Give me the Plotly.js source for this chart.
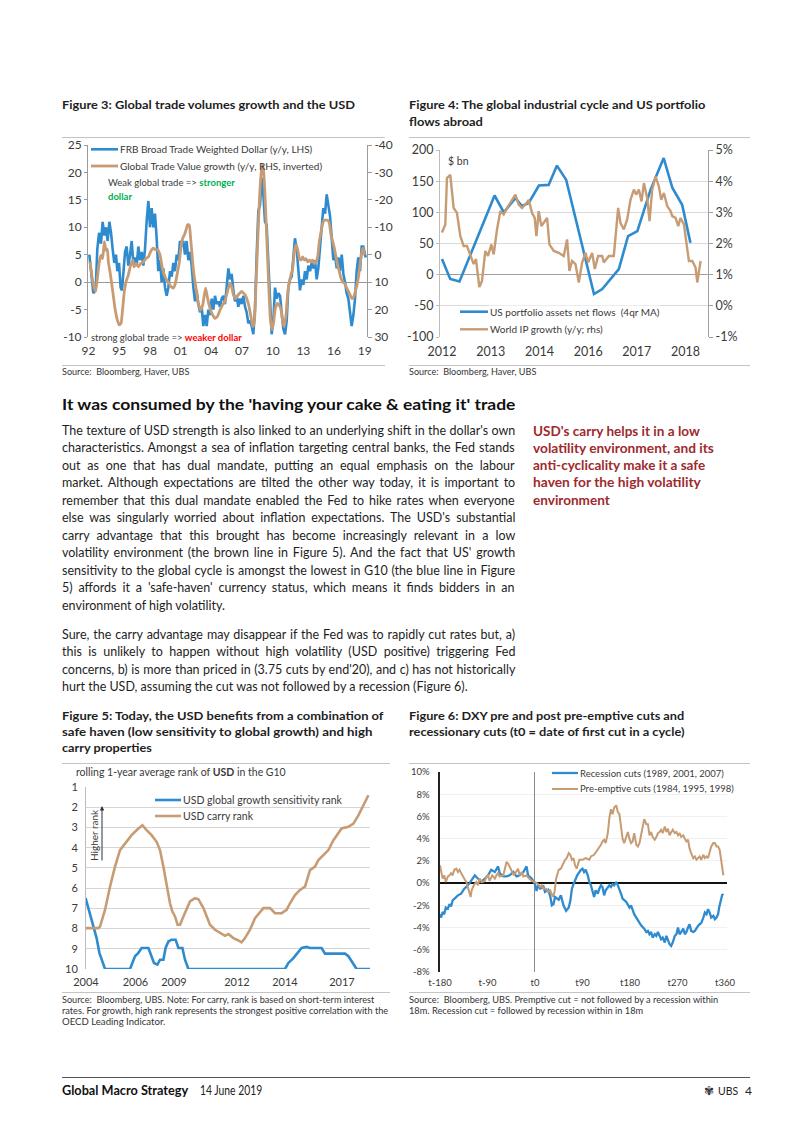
<!DOCTYPE html>
<html><head><meta charset="utf-8">
<script src="https://cdn.plot.ly/plotly-3.0.1.min.js"></script>
<style>
html,body{margin:0;padding:0;background:#fff}
body{width:802px;height:1133px;position:relative;overflow:hidden;font-family:Lato,"Open Sans",sans-serif;color:#1e1e1e}
.t{position:absolute;white-space:pre;line-height:1;transform-origin:0 0}
.chart{position:absolute}
.rule{position:absolute;height:0;border-top:1px solid #c4c4c4}
</style></head><body>
<script>
// ---------------- DATA ----------------
// Figure 3: [decimal year, value]
const usdTwdYoY = [[1992.08,5],[1992.31,0],[1992.47,-2],[1992.70,-1.5],[1992.86,6],[1993.03,9],[1993.22,7],[1993.38,11],[1993.55,8.5],[1993.71,10],[1993.87,7.5],[1994.04,11],[1994.20,9],[1994.36,6],[1994.52,3.5],[1994.69,5],[1994.82,2],[1994.98,3.5],[1995.14,-1],[1995.27,-1.5],[1995.40,1],[1995.57,5.5],[1995.73,6.5],[1995.89,3],[1996.06,5],[1996.22,7.5],[1996.38,3.5],[1996.54,4.5],[1996.71,3],[1996.87,6.5],[1997.03,4],[1997.20,5.5],[1997.36,3],[1997.52,6],[1997.68,11],[1997.85,14.8],[1998.01,10],[1998.17,13.5],[1998.34,10],[1998.50,12.5],[1998.66,8],[1998.82,2],[1998.99,4],[1999.15,0],[1999.31,2.5],[1999.48,-1],[1999.64,-2.5],[1999.80,-1],[1999.97,2],[2000.13,1],[2000.29,3.5],[2000.45,2],[2000.62,5],[2000.78,4],[2000.94,7.5],[2001.11,6.5],[2001.27,7.5],[2001.43,5],[2001.59,7.5],[2001.76,4],[2001.92,5.5],[2002.08,3],[2002.25,-1],[2002.41,-3.5],[2002.57,-1.5],[2002.73,-4],[2002.90,-5.5],[2003.06,-4.5],[2003.22,-8],[2003.39,-6],[2003.55,-8],[2003.71,-5],[2003.87,-6],[2004.04,-3],[2004.20,-5],[2004.36,-2.5],[2004.53,-4],[2004.69,-3.5],[2004.85,-4.5],[2005.02,-3],[2005.18,-2.5],[2005.34,-4],[2005.50,-1],[2005.67,2.5],[2005.83,0.5],[2005.99,1.5],[2006.16,-1.5],[2006.32,-3.5],[2006.48,-2.5],[2006.64,-4.5],[2006.81,-3],[2006.97,-4],[2007.14,-2.5],[2007.30,-4.5],[2007.46,-5.5],[2007.62,-7.5],[2007.79,-7],[2007.95,-8],[2008.11,-9.5],[2008.27,-5],[2008.44,5],[2008.60,13],[2008.76,14],[2008.93,19],[2009.09,16],[2009.25,11],[2009.41,10.5],[2009.58,3],[2009.74,-5],[2009.90,-9.5],[2010.07,-7],[2010.23,-1],[2010.39,-3],[2010.56,-2],[2010.72,-2.5],[2010.88,-5],[2011.04,-8.5],[2011.21,-9.5],[2011.37,-7],[2011.53,-1],[2011.70,0.5],[2011.86,1],[2012.02,4],[2012.18,8],[2012.35,6],[2012.51,2],[2012.67,-1.5],[2012.84,0.5],[2013.00,-0.5],[2013.16,2],[2013.32,0.5],[2013.49,3],[2013.65,2],[2013.81,3.5],[2013.98,2.5],[2014.14,4],[2014.30,0.5],[2014.46,2.5],[2014.63,7],[2014.79,10],[2014.95,13.5],[2015.12,12.5],[2015.28,16],[2015.44,14],[2015.61,12],[2015.77,8],[2015.93,4],[2016.09,5],[2016.26,2.5],[2016.42,4.5],[2016.58,2],[2016.75,5],[2016.91,1.5],[2017.07,0],[2017.23,-2],[2017.40,-3],[2017.56,-5.5],[2017.72,-8],[2017.89,-6],[2018.05,-3],[2018.21,2],[2018.37,4.5],[2018.54,2],[2018.70,6.5],[2018.86,6.5],[2019.09,4.5]];
const tradeValueYoY = [[1992.15,2.6],[1992.47,11],[1992.70,13.4],[1992.90,7.4],[1993.06,2.6],[1993.22,0.2],[1993.38,1.4],[1993.55,-4.8],[1993.71,-1.6],[1993.84,-2],[1993.94,2.6],[1994.10,6.2],[1994.33,12.2],[1994.59,19.6],[1994.82,23.8],[1995.01,25.6],[1995.18,25],[1995.34,19.6],[1995.50,13.4],[1995.67,9.8],[1995.89,7.4],[1996.12,3.8],[1996.32,2],[1996.45,4.4],[1996.64,3.2],[1996.87,4.4],[1997.10,3.2],[1997.36,2.6],[1997.62,1.4],[1997.85,0.8],[1998.08,-1.2],[1998.34,-2.4],[1998.56,-1.8],[1998.76,-1.8],[1998.99,0.2],[1999.22,5],[1999.41,7.4],[1999.64,9.2],[1999.87,10.4],[2000.06,11.6],[2000.29,12.2],[2000.45,11],[2000.68,6.8],[2000.88,2.6],[2001.01,-1.8],[2001.20,-6],[2001.37,-7.2],[2001.53,-9],[2001.69,-11],[2001.85,-10.8],[2001.98,-6],[2002.15,1.4],[2002.31,7.4],[2002.51,12.2],[2002.73,17.8],[2002.96,20.2],[2003.16,18.4],[2003.32,14.6],[2003.45,12.2],[2003.65,16],[2003.88,19.6],[2004.14,22],[2004.36,23.2],[2004.59,22.6],[2004.85,20.2],[2005.08,18.4],[2005.31,17.2],[2005.50,14.6],[2005.67,12.2],[2005.83,10.4],[2005.99,11.6],[2006.16,14.6],[2006.38,16],[2006.64,14.6],[2006.97,13.4],[2007.30,14.6],[2007.62,17.8],[2007.85,22],[2008.05,26.2],[2008.21,24.4],[2008.37,11],[2008.54,-4.8],[2008.70,-19.4],[2008.86,-29],[2008.99,-32.8],[2009.12,-30.2],[2009.28,-19.4],[2009.45,-3.6],[2009.61,11],[2009.77,23.2],[2009.94,27.4],[2010.10,24.4],[2010.26,19.6],[2010.46,17.8],[2010.65,18.4],[2010.82,20.2],[2010.98,24.4],[2011.14,26.2],[2011.30,22],[2011.47,14],[2011.63,9.8],[2011.79,7.4],[2011.96,5],[2012.12,-1.2],[2012.28,-3.6],[2012.45,-1.8],[2012.61,1.4],[2012.77,2],[2012.93,0.8],[2013.10,2],[2013.26,1.4],[2013.42,2.6],[2013.59,2],[2013.75,2.6],[2013.91,2],[2014.07,3.2],[2014.24,2.6],[2014.40,0.8],[2014.56,-4.8],[2014.73,-8.4],[2014.89,-11.4],[2015.05,-12.6],[2015.21,-12.6],[2015.38,-12.6],[2015.54,-11.4],[2015.70,-7.2],[2015.87,-4.8],[2016.03,-2.4],[2016.19,0.8],[2016.35,3.8],[2016.52,6.2],[2016.68,8.6],[2016.84,9.8],[2017.01,10.4],[2017.17,11.6],[2017.33,12.8],[2017.56,14.6],[2017.76,16],[2017.92,15.4],[2018.08,13.4],[2018.24,11],[2018.41,7.4],[2018.57,2.6],[2018.73,-1.2],[2018.86,-2.4],[2018.96,0.2]];
const fig3TickVals = [1992,1995,1998,2001,2004,2007,2010,2013,2016,2019];
const fig3TickText = ['92','95','98','01','04','07','10','13','16','19'];
const fig3LeftTicks = [-10,-5,0,5,10,15,20,25];
const fig3RightTicks = [-40,-30,-20,-10,0,10,20,30];

// Figure 4: position on the category axis (label units), value
const portfolioFlows = [[0,25],[0.17,-7],[0.36,-11],[1.08,127],[1.27,100],[1.51,123],[1.64,110],[1.78,115],[1.99,143],[2.19,144],[2.36,175],[2.55,152],[3.12,-31],[3.29,-23],[3.63,9],[3.82,62],[4.01,70],[4.28,136],[4.55,187],[4.73,139],[4.93,112],[5.10,51]];
const worldIP = [[0,2.35],[0.068,2.6],[0.103,4.1],[0.171,4.2],[0.240,3.14],[0.308,2.98],[0.377,2.24],[0.445,1.92],[0.514,1.92],[0.582,1.6],[0.651,1.34],[0.699,1.5],[0.767,0.6],[0.822,0.8],[0.890,1.76],[0.945,1.6],[1.014,1.97],[1.062,1.65],[1.130,2.45],[1.199,3.04],[1.267,2.93],[1.336,3.14],[1.438,3.4],[1.507,3.57],[1.575,3.25],[1.644,3.14],[1.712,3.25],[1.781,3.4],[1.849,2.98],[1.904,2.82],[1.938,2.24],[1.986,3.04],[2.041,2.56],[2.089,2.66],[2.158,2.82],[2.205,1.97],[2.295,1.76],[2.397,1.7],[2.500,1.6],[2.568,2.13],[2.616,1.12],[2.671,1.44],[2.740,1.34],[2.808,0.75],[2.877,1.39],[2.945,1.7],[3.000,1.39],[3.082,1.7],[3.137,1.18],[3.205,1.6],[3.288,1.6],[3.322,1.39],[3.425,1.6],[3.527,1.6],[3.575,2.56],[3.616,3.14],[3.664,2.66],[3.733,2.45],[3.801,2.77],[3.870,3.4],[3.938,3.73],[3.986,3.57],[4.041,3.73],[4.096,3.35],[4.144,3.94],[4.212,3.46],[4.260,2.72],[4.315,3.73],[4.384,4.15],[4.452,3.83],[4.500,3.4],[4.555,3.62],[4.623,3.2],[4.692,3.04],[4.726,2.88],[4.795,2.82],[4.849,2.56],[4.897,2.82],[4.966,2.61],[5.034,1.92],[5.068,1.44],[5.137,1.44],[5.205,1.23],[5.240,0.75],[5.308,1.44]];
const fig4TickVals = [0,1,2,3,4,5];
const fig4TickText = ['2012','2013','2014','2016','2017','2018'];
const fig4LeftTicks = [-100,-50,0,50,100,150,200];
const fig4RightTicks = [-1,0,1,2,3,4,5];

// Figure 5: [year position, rank]
const growthSensRank = [[2004.18,6.5],[2004.4,7.24],[2004.57,7.9],[2004.73,8.47],[2004.87,9.2],[2004.98,9.54],[2005.15,10],[2006.4,10],[2006.65,9.37],[2006.82,9.2],[2006.98,8.96],[2007.32,8.96],[2007.48,9.37],[2007.6,9.7],[2007.77,9.78],[2007.9,9.54],[2008.07,9.54],[2008.18,8.96],[2008.32,8.64],[2008.48,8.55],[2008.68,8.55],[2008.82,8.96],[2009.02,8.96],[2009.15,9.54],[2009.32,10],[2014.15,10],[2014.32,9.7],[2014.57,9.46],[2014.98,8.96],[2015.23,8.91],[2015.4,8.96],[2015.98,8.96],[2016.15,9.24],[2017.15,9.24],[2017.32,9.37],[2017.73,10],[2018.4,10]];
const carryRank = [[2004.18,7.98],[2004.82,7.98],[2004.9,7.9],[2005.15,7.08],[2005.4,5.93],[2005.65,4.94],[2005.9,4.12],[2006.15,3.79],[2006.48,3.38],[2006.82,3.05],[2007.02,2.89],[2007.23,3.13],[2007.48,3.38],[2007.73,3.71],[2007.9,4.12],[2008.07,4.94],[2008.23,5.93],[2008.4,6.75],[2008.52,7.16],[2008.65,7.4],[2008.78,7.81],[2008.9,7.81],[2009.07,7.4],[2009.23,7.08],[2009.4,6.66],[2009.65,6.5],[2009.82,6.55],[2010.07,6.99],[2010.23,7.4],[2010.4,7.81],[2010.65,8.06],[2010.9,8.22],[2011.15,8.36],[2011.32,8.27],[2011.57,8.47],[2011.82,8.59],[2011.98,8.68],[2012.15,8.47],[2012.4,8.06],[2012.65,7.49],[2012.9,7.16],[2013.07,6.99],[2013.4,6.99],[2013.65,7.24],[2013.98,7.24],[2014.23,7.08],[2014.4,6.75],[2014.65,6.34],[2014.9,6.09],[2015.15,5.93],[2015.4,5.11],[2015.65,4.94],[2015.82,4.61],[2016.07,4.37],[2016.32,4.12],[2016.57,3.63],[2016.73,3.38],[2016.98,3.05],[2017.32,2.97],[2017.57,2.81],[2017.82,2.4],[2018.07,1.9],[2018.32,1.41]];
const fig5TickVals = [2004.2,2006.67,2008.6,2011.75,2014.15,2017.0];
const fig5TickText = ['2004','2006','2009','2012','2014','2017'];

// Figure 6: [days from first cut, DXY % change]
const recessionCuts = [[-180,-2.8],[-178,-3.1],[-175,-2.6],[-172,-2.8],[-169,-2.2],[-165,-2.3],[-162,-1.9],[-159,-2.1],[-156,-1.55],[-149,-1.25],[-146,-1.1],[-140,-0.95],[-137,-0.65],[-134,-0.5],[-130,-0.35],[-127,-0.2],[-124,0],[-114,0.7],[-108,0.4],[-102,0.1],[-95,0.4],[-89,0.7],[-83,1.2],[-76,1.0],[-70,1.5],[-67,0.9],[-60,0.6],[-54,0.6],[-48,0.7],[-41,1.0],[-35,0.6],[-29,0.7],[-22,1.0],[-16,1.5],[-13,0.7],[-6,0.4],[0,-0.1],[3,-0.7],[6,-0.2],[10,-0.5],[16,-0.3],[19,-0.8],[25,-0.6],[29,-1.2],[32,-2.0],[35,-1.9],[38,-1.25],[45,-1.5],[49,-1.1],[54,-2.0],[59,-2.5],[64,-2.2],[67,-1.6],[70,-0.5],[73,-0.1],[80,0.7],[87,1.2],[90,1.3],[93,1.0],[96,1.2],[100,0.7],[103,0.1],[106,-0.2],[109,-0.8],[112,-1.25],[115,-0.65],[119,-0.95],[122,-0.5],[125,-0.2],[128,-0.35],[131,-1.1],[134,-0.65],[138,-0.35],[141,-0.2],[144,-0.35],[147,-0.1],[150,-0.2],[154,0.1],[157,-0.2],[160,-0.5],[163,-0.95],[166,-1.4],[173,-1.7],[179,-2.2],[182,-2.0],[188,-2.8],[195,-3.4],[201,-3.8],[207,-4.1],[211,-4.4],[214,-4.3],[217,-4.6],[220,-4.4],[223,-4.9],[227,-4.6],[230,-4.75],[233,-4.4],[236,-4.75],[239,-5.05],[242,-4.9],[246,-5.35],[249,-4.75],[252,-5.2],[255,-5.5],[258,-5.65],[261,-5.35],[265,-4.75],[268,-4.6],[271,-4.0],[274,-4.6],[277,-4.4],[281,-4.1],[284,-4.6],[287,-4.4],[290,-4.0],[293,-3.7],[296,-4.3],[300,-4.4],[303,-4.3],[306,-4.0],[309,-3.85],[312,-3.7],[315,-3.6],[319,-3.1],[322,-2.65],[325,-2.8],[328,-2.35],[331,-2.65],[334,-3.1],[338,-2.95],[341,-3.25],[344,-3.1],[347,-2.8],[349,-2.2],[352,-1.6],[355,-1.0],[357,-1.1]];
const preemptiveCuts = [[-180,1.6],[-175,0.4],[-172,0.7],[-169,0.1],[-165,0.6],[-162,0.7],[-159,0.9],[-156,0.7],[-153,1.2],[-149,1.3],[-146,1.0],[-143,1.2],[-140,0.9],[-137,0.6],[-134,0.4],[-130,0.1],[-127,-0.35],[-124,-0.8],[-122,-1.25],[-120,-0.65],[-116,-0.2],[-111,0.1],[-108,-0.2],[-105,0.4],[-100,0.1],[-95,0.2],[-92,0.6],[-89,0.7],[-86,0.2],[-81,0.7],[-76,0.4],[-73,0.7],[-70,0.9],[-67,0.6],[-60,0.7],[-57,1.3],[-54,1.9],[-51,1.75],[-48,1.45],[-45,1.2],[-40,0.7],[-36,1.0],[-32,1.3],[-29,0.7],[-25,1.0],[-22,0.6],[-16,0.7],[-11,0.4],[-6,0.2],[0,0.1],[6,-0.1],[10,-0.35],[13,-0.2],[16,-0.5],[21,-0.5],[25,-0.8],[29,-0.65],[34,-1.25],[37,-0.8],[40,0.4],[45,1.2],[49,1.3],[53,1.75],[57,2.1],[60,2.25],[64,2.7],[67,2.55],[70,2.1],[73,2.25],[76,1.6],[79,1.3],[82,1.75],[84,2.1],[90,2.1],[96,2.25],[103,2.1],[106,2.4],[112,2.55],[119,3.0],[125,3.45],[128,3.75],[131,3.9],[134,3.6],[138,4.5],[141,5.9],[144,6.65],[147,6.2],[150,6.8],[154,7.0],[157,6.4],[160,6.2],[163,5.1],[166,4.0],[169,3.6],[173,4.3],[176,4.6],[179,4.0],[182,3.6],[185,3.75],[188,4.5],[192,3.45],[195,3.3],[198,3.6],[201,4.3],[204,5.3],[207,5.75],[211,5.3],[214,5.3],[217,4.3],[220,4.6],[223,4.15],[227,3.9],[230,4.15],[233,4.5],[236,4.6],[239,4.8],[242,4.5],[246,5.1],[249,4.6],[252,4.9],[255,4.3],[258,4.6],[261,4.8],[265,4.5],[268,4.6],[271,4.3],[274,4.5],[277,4.15],[281,4.3],[284,4.0],[287,3.75],[290,3.9],[293,3.1],[296,2.7],[300,2.25],[303,2.4],[306,2.1],[309,2.25],[312,2.4],[315,2.1],[319,2.55],[322,2.25],[325,2.4],[328,2.25],[331,2.7],[334,3.3],[338,3.6],[341,3.6],[344,3.3],[347,3.3],[350,3.0],[352,2.4],[355,1.2],[357,0.7]];
const fig6TickVals = [-180,-90,0,90,180,270,360];
const fig6TickText = ['t-180','t-90','t0','t90','t180','t270','t360'];
const fig6PctTicks = [-8,-6,-4,-2,0,2,4,6,8,10];

// ---------------- PAGE TEXT ----------------
const para1 = [
"The texture of USD strength is also linked to an underlying shift in the dollar's own",
"characteristics. Amongst a sea of inflation targeting central banks, the Fed stands",
"out as one that has dual mandate, putting an equal emphasis on the labour",
"market. Although expectations are tilted the other way today, it is important to",
"remember that this dual mandate enabled the Fed to hike rates when everyone",
"else was singularly worried about inflation expectations. The USD's substantial",
"carry advantage that this brought has become increasingly relevant in a low",
"volatility environment (the brown line in Figure 5). And the fact that US' growth",
"sensitivity to the global cycle is amongst the lowest in G10 (the blue line in Figure",
"5) affords it a 'safe-haven' currency status, which means it finds bidders in an",
"environment of high volatility."];
const para2 = [
"Sure, the carry advantage may disappear if the Fed was to rapidly cut rates but, a)",
"this is unlikely to happen without high volatility (USD positive) triggering Fed",
"concerns, b) is more than priced in (3.75 cuts by end'20), and c) has not historically",
"hurt the USD, assuming the cut was not followed by a recession (Figure 6)."];
const sideNote = ["USD's carry helps it in a low","volatility environment, and its","anti-cyclicality make it a safe","haven for the high volatility","environment"];

// ---------------- HELPERS ----------------
const FONT = 'Lato, "Open Sans", sans-serif';
const BLUE = '#2e8bcf';
const TAN = '#c79c74';
const TXT = '#3a3a3a';
const hy = v => String(v);            // plain hyphen-minus labels
const pct = v => v + '%';

function addText(o){
  const d=document.createElement('div'); d.className='t';
  d.textContent=o.text;
  d.style.left=o.x+'px';
  d.style.top=(o.y-o.size*0.58)+'px';
  d.style.fontSize=o.size+'px';
  d.style.fontWeight=o.bold?'700':'400';
  d.style.color=o.color||'#1e1e1e';
  document.body.appendChild(d);
  if(o.w){ const nat=d.offsetWidth; d.style.transform='scaleX('+(o.w/nat).toFixed(4)+')'; }
  return d;
}
function addRule(x1,y,x2,color,wd){
  const r=document.createElement('div'); r.className='rule';
  r.style.left=x1+'px'; r.style.top=y+'px'; r.style.width=(x2-x1)+'px';
  if(color) r.style.borderTopColor=color;
  if(wd) r.style.borderTopWidth=wd+'px';
  document.body.appendChild(r);
}
function addParagraph(lines,x,y0,dy,width,size){
  const els=lines.map((s,i)=>{const d=document.createElement('div');d.className='t';d.textContent=s;
    d.style.left=x+'px';d.style.top=(y0+i*dy-size*0.58)+'px';d.style.fontSize=size+'px';d.style.color='#1e1e1e';
    document.body.appendChild(d);return d;});
  const nat=els.map(e=>e.offsetWidth);
  let s=1; for(let i=0;i<els.length-1;i++) s=Math.min(s,width/nat[i]);
  els.forEach((e,i)=>{
    e.style.transform='scaleX('+s.toFixed(4)+')';
    if(i<els.length-1){const n=(lines[i].match(/ /g)||[]).length; const extra=width/s-nat[i]; if(n>0) e.style.wordSpacing=(extra/n).toFixed(3)+'px';}
  });
}
function geom(left,top,w,h,m){return {left,top,w,h,m,pl:left+m.l,pt:top+m.t,pw:w-m.l-m.r,ph:h-m.t-m.b};}
function pX(g,x){return (x-g.pl)/g.pw;}
function pY(g,y){return 1-(y-g.pt)/g.ph;}
function ann(g,x,y,text,size,extra){return Object.assign({xref:'paper',yref:'paper',x:pX(g,x),y:pY(g,y),text:text,showarrow:false,xanchor:'left',yanchor:'middle',borderpad:0,font:{family:FONT,size:size,color:TXT}},extra||{});}
// legend drawn with the library's shapes + annotations, at the same place as the reference
function legendItems(g,items,x0,x1,tx,size,bg){
  const shapes=[],anns=[];
  items.forEach(it=>{
    shapes.push({type:'line',xref:'paper',yref:'paper',x0:pX(g,x0),x1:pX(g,x1),y0:pY(g,it.y),y1:pY(g,it.y),line:{color:it.color,width:it.width}});
    anns.push(ann(g,tx,it.y,it.name,size,bg?{bgcolor:bg}:{}));
  });
  return {shapes,anns};
}
function chart(g,traces,layout){
  const d=document.createElement('div'); d.className='chart';
  Object.assign(d.style,{left:g.left+'px',top:g.top+'px',width:g.w+'px',height:g.h+'px'});
  document.body.appendChild(d);
  Object.assign(layout,{width:g.w,height:g.h,autosize:false,margin:{l:g.m.l,r:g.m.r,t:g.m.t,b:g.m.b,pad:0},
    paper_bgcolor:'rgba(0,0,0,0)',plot_bgcolor:'rgba(0,0,0,0)',hovermode:false,showlegend:false,
    font:{family:FONT,size:11,color:TXT}});
  Plotly.newPlot(d,traces,layout,{staticPlot:true,displayModeBar:false});
}
const xs=a=>a.map(p=>p[0]), ys=a=>a.map(p=>p[1]);

// ---------------- PAGE TEXT PLACEMENT ----------------
addText({x:62,y:106,text:'Figure 3: Global trade volumes growth and the USD',size:12,bold:true,w:293});
addText({x:409,y:106,text:'Figure 4: The global industrial cycle and US portfolio',size:12,bold:true,w:296});
addText({x:409,y:123,text:'flows abroad',size:12,bold:true,w:74});
addRule(62,137,385); addRule(409,137,750);
addRule(62,365,385); addRule(409,365,750);
addText({x:62,y:373,text:'Source:  Bloomberg, Haver, UBS',size:9.5,w:127,color:'#333'});
addText({x:409,y:373,text:'Source:  Bloomberg, Haver, UBS',size:9.5,w:127,color:'#333'});

addText({x:62,y:405,text:"It was consumed by the 'having your cake & eating it' trade",size:16,bold:true,w:453,color:'#111'});
addParagraph(para1,62,432,17.5,453,12.5);
addParagraph(para2,62,636,17.4,453,12.5);
const sideW=[167,181,172,168,77];
sideNote.forEach((s,i)=>addText({x:533,y:433+i*17.2,text:s,size:12.5,bold:true,w:sideW[i],color:'#9e2a2e'}));

addText({x:62,y:717,text:'Figure 5: Today, the USD benefits from a combination of',size:12,bold:true,w:321});
addText({x:62,y:733,text:'safe haven (low sensitivity to global growth) and high',size:12,bold:true,w:310});
addText({x:62,y:749,text:'carry properties',size:12,bold:true,w:90});
addText({x:409,y:717,text:'Figure 6: DXY pre and post pre-emptive cuts and',size:12,bold:true,w:275});
addText({x:409,y:733,text:'recessionary cuts (t0 = date of first cut in a cycle)',size:12,bold:true,w:275});
addRule(62,763,390); addRule(409,763,750);
addRule(62,992,390); addRule(409,992,750);
addText({x:62,y:1001,text:'Source:  Bloomberg, UBS. Note: For carry, rank is based on short-term interest',size:9.5,w:312,color:'#333'});
addText({x:62,y:1012,text:'rates. For growth, high rank represents the strongest positive correlation with the',size:9.5,w:326,color:'#333'});
addText({x:62,y:1023,text:'OECD Leading Indicator.',size:9.5,w:103,color:'#333'});
addText({x:409,y:1001,text:'Source:  Bloomberg, UBS. Premptive cut = not followed by a recession within',size:9.5,w:309,color:'#333'});
addText({x:409,y:1012,text:'18m. Recession cut = followed by recession within in 18m',size:9.5,w:234,color:'#333'});

addRule(62,1077,750,'#555',1.5);
addText({x:62,y:1092,text:'Global Macro Strategy',size:12.5,bold:true,w:126,color:'#111'});
addText({x:200,y:1092,text:'14 June 2019',size:12.5,w:62,color:'#222'});
addText({x:704,y:1092,text:'\u273E',size:12,color:'#333'});
addText({x:718,y:1092,text:'UBS',size:12,w:20,color:'#222'});
addText({x:745,y:1092,text:'4',size:12,color:'#222'});

// ---------------- FIGURE 3 ----------------
const g3=geom(55,124,345,239,{l:33,r:33,t:21,b:26});
const n3=['FRB Broad Trade Weighted Dollar (y/y, LHS)','Global Trade Value growth (y/y, RHS, inverted)'];
const L3=legendItems(g3,[{y:149.3,name:n3[0],color:BLUE,width:2.6},{y:166,name:n3[1],color:TAN,width:2.8}],91,118,119,10);
chart(g3,[
  {x:xs(usdTwdYoY),y:ys(usdTwdYoY),type:'scatter',mode:'lines',name:n3[0],line:{color:BLUE,width:2.6}},
  {x:xs(tradeValueYoY),y:ys(tradeValueYoY),type:'scatter',mode:'lines',yaxis:'y2',name:n3[1],line:{color:TAN,width:2.8,shape:'spline',smoothing:0.4}}
],{
  xaxis:{range:[1991.95,2019.22],tickvals:fig3TickVals,ticktext:fig3TickText,showgrid:false,zeroline:false,showline:false,ticks:'',ticklabelstandoff:5,tickfont:{size:12,color:TXT}},
  yaxis:{range:[-10,25.001],tickvals:fig3LeftTicks,ticktext:fig3LeftTicks.map(hy),showgrid:false,zeroline:true,zerolinecolor:'#9a9a9a',zerolinewidth:1,showline:true,linecolor:'#9a9a9a',linewidth:1,ticks:'outside',ticklen:3,tickcolor:'#9a9a9a',tickfont:{size:12,color:TXT},ticklabeloverflow:'allow'},
  yaxis2:{overlaying:'y',side:'right',range:[30,-40.002],tickvals:fig3RightTicks,ticktext:fig3RightTicks.map(hy),showgrid:false,zeroline:false,showline:true,linecolor:'#9a9a9a',linewidth:1,ticks:'outside',ticklen:4,tickcolor:'#9a9a9a',tickfont:{size:12,color:TXT},ticklabeloverflow:'allow'},
  shapes:L3.shapes,
  annotations:L3.anns.concat([
    ann(g3,107,183,'Weak global trade =&gt; <b><span style="color:#00b050">stronger</span></b>',9.5),
    ann(g3,107,197,'<b><span style="color:#00b050">dollar</span></b>',9.5),
    ann(g3,90,337,'strong global trade =&gt; <b><span style="color:#ff0000">weaker dollar</span></b>',9.5)
  ])
});

// ---------------- FIGURE 4 ----------------
const g4=geom(405,128,345,235,{l:35,r:42,t:22,b:26});
const n4=['US portfolio assets net flows  (4qr MA)','World IP growth (y/y; rhs)'];
const L4=legendItems(g4,[{y:311.7,name:n4[0],color:BLUE,width:2.6},{y:329.3,name:n4[1],color:TAN,width:2.4}],460,488,489,10,'#ffffff');
chart(g4,[
  {x:xs(portfolioFlows),y:ys(portfolioFlows),type:'scatter',mode:'lines',name:n4[0],line:{color:BLUE,width:2.6}},
  {x:xs(worldIP),y:ys(worldIP),type:'scatter',mode:'lines',yaxis:'y2',name:n4[1],line:{color:TAN,width:2.4}}
],{
  xaxis:{range:[-0.04,5.46],tickvals:fig4TickVals,ticktext:fig4TickText,showgrid:false,zeroline:false,showline:false,ticks:'',ticklabelstandoff:5,tickfont:{size:12.5,color:TXT}},
  yaxis:{range:[-100,200],tickvals:fig4LeftTicks,ticktext:fig4LeftTicks.map(hy),showgrid:true,gridcolor:'#dadada',gridwidth:1,zeroline:true,zerolinecolor:'#a0a0a0',zerolinewidth:1,showline:true,linecolor:'#bdbdbd',ticks:'outside',ticklen:3,tickcolor:'#bdbdbd',tickfont:{size:12.5,color:TXT}},
  yaxis2:{overlaying:'y',side:'right',range:[-1,5],tickvals:fig4RightTicks,ticktext:fig4RightTicks.map(pct),showgrid:false,zeroline:false,showline:true,linecolor:'#a0a0a0',ticks:'outside',ticklen:4,tickcolor:'#a0a0a0',tickfont:{size:12.5,color:TXT}},
  shapes:L4.shapes,
  annotations:L4.anns.concat([ann(g4,447,161,'$ bn',10.5)])
});

// ---------------- FIGURE 5 ----------------
const g5=geom(55,765,340,230,{l:31,r:25,t:22,b:26});
const n5=['USD global growth sensitivity rank','USD carry rank'];
const L5=legendItems(g5,[{y:800,name:n5[0],color:BLUE,width:2.6},{y:816,name:n5[1],color:TAN,width:2.6}],155,181,182,10.5);
chart(g5,[
  {x:xs(growthSensRank),y:ys(growthSensRank),type:'scatter',mode:'lines',name:n5[0],line:{color:BLUE,width:2.6}},
  {x:xs(carryRank),y:ys(carryRank),type:'scatter',mode:'lines',name:n5[1],line:{color:TAN,width:2.6}}
],{
  xaxis:{range:[2004.2,2018.4],tickvals:fig5TickVals,ticktext:fig5TickText,showgrid:false,zeroline:false,showline:false,ticks:'',ticklabelstandoff:5,tickfont:{size:11,color:TXT}},
  yaxis:{range:[10,1],tickvals:[1,2,3,4,5,6,7,8,9,10],showgrid:true,gridcolor:'#d6d6d6',gridwidth:1,zeroline:false,showline:true,linecolor:'#bdbdbd',ticks:'outside',ticklen:5,tickcolor:'rgba(0,0,0,0)',tickfont:{size:11,color:TXT}},
  shapes:L5.shapes,
  annotations:L5.anns.concat([
    ann(g5,75,771.5,'rolling 1-year average rank of <b>USD</b> in the G10',10.5),
    ann(g5,94,835,'Higher rank',10,{xanchor:'center',textangle:-90}),
    {xref:'paper',yref:'paper',x:pX(g5,102),y:pY(g5,806),ax:0,ay:56,text:'',showarrow:true,arrowhead:2,arrowsize:0.9,arrowwidth:1,arrowcolor:'#333'}
  ])
});

// ---------------- FIGURE 6 ----------------
const g6=geom(405,755,345,240,{l:35,r:23,t:17,b:23});
const n6=['Recession cuts (1989, 2001, 2007)','Pre-emptive cuts (1984, 1995, 1998)'];
const L6=legendItems(g6,[{y:773,name:n6[0],color:BLUE,width:2.3},{y:789,name:n6[1],color:TAN,width:2.0}],552,578,579,9.5);
chart(g6,[
  {x:xs(recessionCuts),y:ys(recessionCuts),type:'scatter',mode:'lines',name:n6[0],line:{color:BLUE,width:2.3}},
  {x:xs(preemptiveCuts),y:ys(preemptiveCuts),type:'scatter',mode:'lines',name:n6[1],line:{color:TAN,width:2.0}}
],{
  xaxis:{range:[-180,-180+282/0.5185],tickvals:fig6TickVals,ticktext:fig6TickText,showgrid:false,zeroline:true,zerolinecolor:'#8a8a8a',zerolinewidth:1,showline:false,ticks:'',ticklabelstandoff:3,tickfont:{size:9.5,color:TXT}},
  yaxis:{range:[-8,10],tickvals:fig6PctTicks,ticktext:fig6PctTicks.map(pct),showgrid:true,gridcolor:'#f0f0f0',zeroline:true,zerolinecolor:'#111',zerolinewidth:1.5,showline:true,linecolor:'#222',linewidth:2.5,ticks:'outside',ticklen:6,tickcolor:'rgba(0,0,0,0)',tickfont:{size:9.5,color:TXT}},
  shapes:L6.shapes,
  annotations:L6.anns
});
</script>
</body></html>
